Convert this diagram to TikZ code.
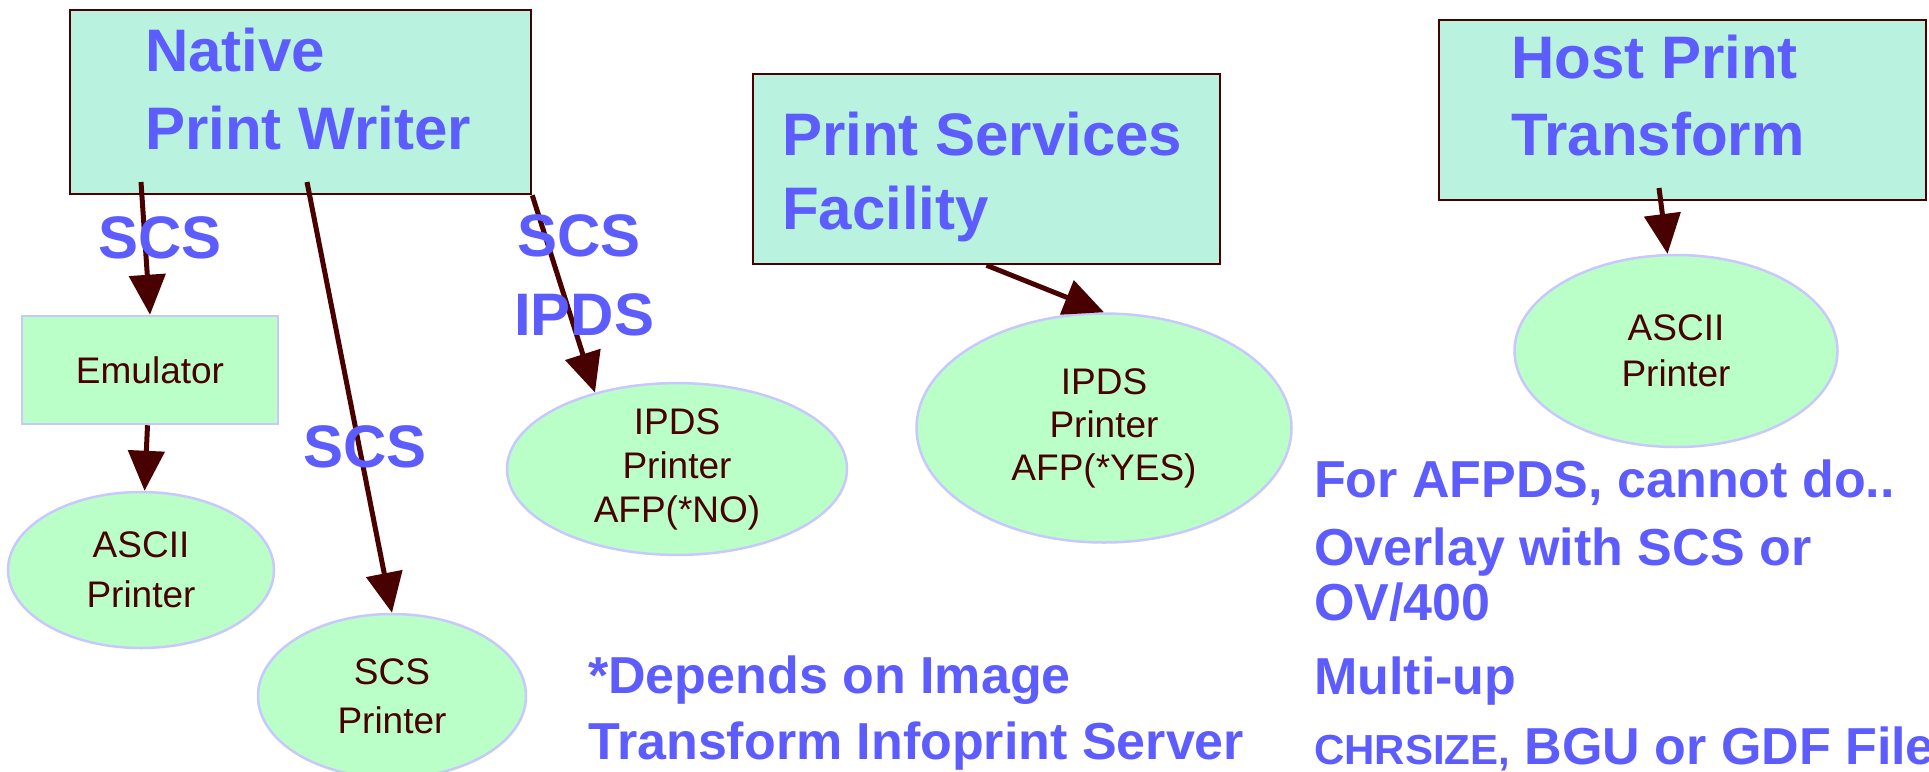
\documentclass[tikz,border=0pt]{standalone}
\usepackage{fontspec}
\setmainfont{Liberation Sans}
\usetikzlibrary{shapes.geometric,arrows.meta}
\definecolor{lblue}{RGB}{92,92,255}
\definecolor{dbrown}{RGB}{72,0,0}
\definecolor{boxfill}{RGB}{185,242,222}
\definecolor{pgreen}{RGB}{187,255,200}
\definecolor{lav}{RGB}{200,200,255}
\begin{document}
\begin{tikzpicture}[x=1pt,y=-1pt,
 hostbox/.style={rectangle,draw=dbrown,line width=2.5pt,fill=boxfill,inner sep=0pt},
 devell/.style={ellipse,draw=lav,line width=2.5pt,fill=pgreen,inner sep=0pt,text=dbrown,align=center},
 devrect/.style={rectangle,draw=lav,line width=2.5pt,fill=pgreen,inner sep=0pt,text=dbrown,align=center},
 bigtxt/.style={anchor=base west,inner sep=0pt,text=lblue,font=\fontsize{60}{72}\selectfont\bfseries},
 midtxt/.style={anchor=base west,inner sep=0pt,text=lblue,font=\fontsize{52}{62}\selectfont\bfseries},
 flow/.style={draw=dbrown,line width=5pt,-{Triangle[length=40pt,width=36pt]}}]
\useasboundingbox (0,0) rectangle (1929,771);

% host boxes
\node[hostbox,minimum width=461pt,minimum height=184pt] (nat) at (300.5,102) {};
\node[bigtxt] (natA) at (145,71) {Native};
\node[bigtxt] (natB) at (145,149) {Print Writer};

\node[hostbox,minimum width=467pt,minimum height=190pt] (psf) at (986.5,169) {};
\node[bigtxt] (psfA) at (782,155) {Print Services};
\node[bigtxt] (psfB) at (782,229) {Facility};

\node[hostbox,minimum width=487pt,minimum height=180pt] (hpt) at (1682.5,110) {};
\node[bigtxt] (hptA) at (1511,78) {Host Print};
\node[bigtxt] (hptB) at (1511,155) {Transform};

% devices
\node[devrect,minimum width=256pt,minimum height=108pt,font=\fontsize{37}{44}\selectfont] (emu) at (150,370) {Emulator};
\node[devell,minimum width=266pt,minimum height=156pt,font=\fontsize{37}{50}\selectfont] (asciiL) at (141,570) {ASCII\\Printer};
\node[devell,minimum width=268pt,minimum height=164pt,font=\fontsize{37}{49}\selectfont] (scsP) at (392,696) {SCS\\Printer};
\node[devell,minimum width=340pt,minimum height=161pt,font=\fontsize{37}{44}\selectfont] (ipdsN) at (677,469) {IPDS\\Printer\\AFP(*NO)};
\node[devell,minimum width=375pt,minimum height=229pt,font=\fontsize{37}{43}\selectfont] (ipdsY) at (1104,428) {IPDS\\Printer\\AFP(*YES)};
\node[devell,minimum width=323pt,minimum height=192pt,font=\fontsize{37}{46}\selectfont] (asciiR) at (1676,351) {ASCII\\Printer};

% connectors
\coordinate (s1) at (141,182);
\coordinate (s3) at (307,182);
\coordinate (s6) at (1659,188);
\draw[flow] (s1) -- (emu.north);
\draw[flow] (emu) -- (asciiL);
\draw[flow] (s3) -- (scsP.north);
\draw[flow] (nat.south east) -- (ipdsN.137);
\draw[flow] (psf.south) -- (ipdsY.north);
\draw[flow] (s6) -- (asciiR.95);

% connector labels
\node[bigtxt] (l1) at (98,258) {SCS};
\node[bigtxt] (l2) at (303,467) {SCS};
\node[bigtxt] (l3) at (517,256) {SCS};
\node[bigtxt] (l4) at (514,335) {IPDS};

% notes
\node[midtxt] (n1) at (588,693) {*Depends on Image};
\node[midtxt] (n2) at (588,759) {Transform Infoprint Server};
\node[midtxt] (r1) at (1314,497) {For AFPDS, cannot do..};
\node[midtxt] (r2) at (1314,565) {Overlay with SCS or};
\node[midtxt] (r3) at (1314,620) {OV/400};
\node[midtxt] (r4) at (1314,694) {Multi-up};
\node[midtxt] (r5) at (1314,764) {{\fontsize{42}{50}\selectfont CHRSIZE,} BGU or GDF File};
\end{tikzpicture}
\end{document}
